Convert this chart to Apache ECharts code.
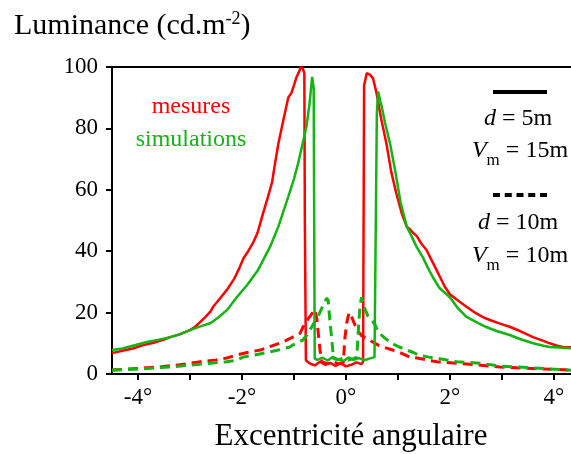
<!DOCTYPE html>
<html>
<head>
  <meta charset="utf-8">
  <title>Luminance</title>
  <script src="https://cdn.jsdelivr.net/npm/echarts@6/dist/echarts.min.js"></script>
  <style>
    body { margin: 0; background: #fff; }
    #chart { width: 571px; height: 454px; }
  </style>
</head>
<body>
  <div id="chart"></div>
  <script>
    // mesures, d = 5m
    const xMesure5 = [-4.5,-4.3,-4.1,-3.9,-3.7,-3.5,-3.38,-3.2,-3.0,-2.9,-2.8,-2.7,-2.6,-2.55,-2.42,-2.29,-2.15,-2.05,-1.97,-1.88,-1.79,-1.7,-1.6,-1.5,-1.42,-1.36,-1.3,-1.2,-1.11,-1.05,-1.0,-0.95,-0.9,-0.87,-0.83,-0.8,-0.79,-0.77,-0.7,-0.6,-0.5,-0.4,-0.3,-0.2,-0.1,0.0,0.1,0.2,0.3,0.33,0.35,0.4,0.46,0.52,0.59,0.68,0.78,0.87,0.97,1.08,1.17,1.24,1.29,1.36,1.45,1.55,1.65,1.74,1.81,1.9,2.0,2.15,2.32,2.5,2.65,2.77,2.95,3.15,3.35,3.6,3.8,3.92,4.05,4.17,4.33];
    const yMesure5 = [6.8,7.6,8.3,9.4,10.2,11.2,12.0,12.9,14.3,15.4,17.0,18.6,20.5,22.0,24.7,27.4,31.0,34.5,37.7,40.0,42.6,46.0,52.0,57.7,62.5,69.0,75.0,83.0,90.0,91.5,94.0,96.7,98.5,100,99.5,98.0,50,4.5,3.5,2.8,4.0,3.0,3.6,2.6,3.5,2.5,3.0,3.8,3.2,4.0,94,98,97.5,96.4,91.4,83,75,66,58.8,52,48,47,46,45,42.5,40.4,37,34,31.6,28.5,26,24,21.9,19.8,18.4,17.6,16.5,15.4,14.0,12,10.8,10,9.3,8.8,8.7];

    // simulations, d = 5m
    const xSimul5 = [-4.5,-4.3,-4.1,-3.83,-3.6,-3.38,-3.2,-3.0,-2.8,-2.6,-2.45,-2.29,-2.1,-1.9,-1.69,-1.46,-1.3,-1.11,-1.0,-0.92,-0.84,-0.76,-0.7,-0.65,-0.62,-0.6,-0.55,-0.45,-0.35,-0.25,-0.15,-0.05,0.05,0.15,0.25,0.35,0.45,0.55,0.58,0.595,0.62,0.66,0.69,0.75,0.85,0.95,1.05,1.17,1.26,1.36,1.48,1.58,1.67,1.8,2.0,2.15,2.32,2.5,2.7,2.9,3.15,3.35,3.6,3.8,3.92,4.1,4.25,4.33];
    const ySimul5 = [7.8,8.3,9.2,10.4,11.2,12.0,12.9,14.3,15.5,16.6,18.5,20.8,25.0,29.0,33.9,41.4,48.0,57.7,63.5,68.6,74.5,80.5,88,96.8,93,5.0,4.6,5.3,4.4,5.6,4.8,4.2,5.4,4.6,5.2,4.5,5.0,5.5,6,85,92,89,87,82,75,66,56,48,45,41.4,38,34.5,31.6,28,25,21.5,18.6,17.0,15.3,14.0,12.7,11.4,10,9.2,8.8,8.6,8.5,8.4];

    // mesures, d = 10m
    const xMesure10 = [-4.5,-4.0,-3.58,-3.2,-2.8,-2.5,-2.29,-2.1,-1.9,-1.65,-1.45,-1.21,-1.05,-0.88,-0.79,-0.68,-0.6,-0.56,-0.5,-0.46,-0.35,-0.25,-0.15,-0.05,-0.02,0.02,0.06,0.1,0.16,0.23,0.3,0.4,0.52,0.62,0.75,0.9,1.04,1.23,1.37,1.55,1.75,2.13,2.5,2.96,3.29,3.7,4.0,4.33];
    const yMesure10 = [1.3,1.8,2.3,3.0,4.0,4.6,5.2,6.2,7.0,7.8,9.0,10.4,11.8,13.3,16.6,19,21,18,8,3.8,3.4,4.0,3.3,3.8,11.7,17,20,19,16.5,14,12.5,11.5,10.4,9.4,8.6,7.8,7.0,5.5,5.2,4.6,4.0,3.5,3.0,2.3,2.0,1.7,1.5,1.3];

    // simulations, d = 10m
    const xSimul10 = [-4.5,-4.0,-3.38,-3.0,-2.6,-2.3,-2.1,-1.98,-1.75,-1.52,-1.3,-1.08,-0.94,-0.83,-0.75,-0.6,-0.54,-0.45,-0.37,-0.34,-0.31,-0.27,-0.24,-0.15,-0.05,0.05,0.15,0.21,0.23,0.27,0.3,0.37,0.42,0.5,0.56,0.62,0.75,0.88,1.0,1.17,1.3,1.42,1.6,1.8,2.13,2.58,2.96,3.3,3.6,3.95,4.25,4.33];
    const ySimul10 = [1.3,1.6,2.3,2.9,3.5,4.0,4.5,5.5,6.2,7.0,7.8,8.8,10.4,11,12.7,17,18.6,22,24.7,24,17.6,11,5,4.6,5.2,4.5,5.0,5.5,12,22,25,21,19,17.5,16,13.7,11.7,10,9,7.8,7.0,6.0,5.5,5.0,4.0,3.5,2.6,2.3,2.0,1.6,1.3,1.2];

    const xTicks = [-4, -3, -2, -1, 0, 1, 2, 3, 4];
    const xLabels = [-4, -2, 0, 2, 4];

    const RED = '#ff0000';
    const GREEN = '#14b414';
    const FONT = '"Liberation Serif", "Times New Roman", serif';

    function pairs(xs, ys) {
      return xs.map((x, i) => [x, ys[i]]);
    }

    function line(data, color, dashed) {
      return {
        type: 'line',
        data: data,
        showSymbol: false,
        silent: true,
        animation: false,
        lineStyle: { color: color, width: dashed ? 3 : 2.5, type: dashed ? [10, 6] : 'solid' },
        z: color === GREEN ? 3 : 2
      };
    }

    const chart = echarts.init(document.getElementById('chart'));
    chart.setOption({
      backgroundColor: '#fff',
      animation: false,
      textStyle: { fontFamily: FONT },
      grid: { left: 112, top: 67, right: 0, bottom: 80, containLabel: false, outerBoundsMode: 'none' },
      xAxis: [{
        type: 'value',
        min: -4.5,
        max: 4.33,
        axisLine: { show: true, onZero: false, lineStyle: { color: '#000', width: 2 } },
        axisTick: { show: true, inside: false, length: 6, customValues: xTicks, lineStyle: { color: '#000', width: 2 } },
        axisLabel: {
          customValues: xLabels,
          formatter: v => v + '°',
          margin: 12,
          fontFamily: FONT, fontSize: 23, color: '#000'
        },
        splitLine: { show: false }
      }, {
        type: 'value',
        position: 'top',
        min: -4.5,
        max: 4.33,
        axisLine: { show: true, onZero: false, lineStyle: { color: '#000', width: 2 } },
        axisTick: { show: false },
        axisLabel: { show: false },
        splitLine: { show: false }
      }],
      yAxis: {
        type: 'value',
        min: 0,
        max: 100,
        interval: 20,
        axisLine: { show: true, onZero: false, lineStyle: { color: '#000', width: 2 } },
        axisTick: { show: true, inside: false, length: 6, lineStyle: { color: '#000', width: 2 } },
        axisLabel: { margin: 14, fontFamily: FONT, fontSize: 23, color: '#000' },
        splitLine: { show: false }
      },
      series: [
        line(pairs(xMesure10, yMesure10), RED, true),
        line(pairs(xSimul10, ySimul10), GREEN, true),
        line(pairs(xMesure5, yMesure5), RED, false),
        line(pairs(xSimul5, ySimul5), GREEN, false)
      ],
      graphic: [
        {
          type: 'text', left: 14, top: 10,
          style: {
            text: '{a|Luminance (cd.m}{s|-2}{a|)}',
            rich: {
              a: { fontFamily: FONT, fontSize: 30, lineHeight: 32, fill: '#000' },
              s: { fontFamily: FONT, fontSize: 18, lineHeight: 18, verticalAlign: 'top', fill: '#000' }
            }
          }
        },
        {
          type: 'text', x: 351, y: 437,
          style: { text: 'Excentricité angulaire', font: '31px "Liberation Serif"', fill: '#000', textAlign: 'center', textVerticalAlign: 'middle' }
        },
        {
          type: 'text', x: 191, y: 107,
          style: { text: 'mesures', font: '24px "Liberation Serif"', fill: RED, textAlign: 'center', textVerticalAlign: 'middle' }
        },
        {
          type: 'text', x: 191, y: 140,
          style: { text: 'simulations', font: '24px "Liberation Serif"', fill: GREEN, textAlign: 'center', textVerticalAlign: 'middle' }
        },
        {
          type: 'line',
          shape: { x1: 493, y1: 92, x2: 547, y2: 92 },
          style: { stroke: '#000', lineWidth: 4 }
        },
        {
          type: 'line',
          shape: { x1: 493, y1: 195, x2: 547, y2: 195 },
          style: { stroke: '#000', lineWidth: 4, lineDash: [7, 4.75] }
        },
        {
          type: 'text', x: 518, y: 119,
          style: {
            text: '{i|d}{n| = 5m}', textAlign: 'center', textVerticalAlign: 'middle',
            rich: {
              i: { fontFamily: FONT, fontSize: 24, fontStyle: 'italic', fill: '#000' },
              n: { fontFamily: FONT, fontSize: 24, fill: '#000' }
            }
          }
        },
        {
          type: 'text', x: 520, y: 151,
          style: {
            text: '{i|V}{s|m}{n| = 15m}', textAlign: 'center', textVerticalAlign: 'middle',
            rich: {
              i: { fontFamily: FONT, fontSize: 24, lineHeight: 24, fontStyle: 'italic', verticalAlign: 'top', fill: '#000' },
              s: { fontFamily: FONT, fontSize: 17, lineHeight: 17, padding: [13, 0, 0, 0], verticalAlign: 'top', fill: '#000' },
              n: { fontFamily: FONT, fontSize: 24, lineHeight: 24, verticalAlign: 'top', fill: '#000' }
            }
          }
        },
        {
          type: 'text', x: 518, y: 223,
          style: {
            text: '{i|d}{n| = 10m}', textAlign: 'center', textVerticalAlign: 'middle',
            rich: {
              i: { fontFamily: FONT, fontSize: 24, fontStyle: 'italic', fill: '#000' },
              n: { fontFamily: FONT, fontSize: 24, fill: '#000' }
            }
          }
        },
        {
          type: 'text', x: 520, y: 256,
          style: {
            text: '{i|V}{s|m}{n| = 10m}', textAlign: 'center', textVerticalAlign: 'middle',
            rich: {
              i: { fontFamily: FONT, fontSize: 24, lineHeight: 24, fontStyle: 'italic', verticalAlign: 'top', fill: '#000' },
              s: { fontFamily: FONT, fontSize: 17, lineHeight: 17, padding: [13, 0, 0, 0], verticalAlign: 'top', fill: '#000' },
              n: { fontFamily: FONT, fontSize: 24, lineHeight: 24, verticalAlign: 'top', fill: '#000' }
            }
          }
        }
      ]
    });
  </script>
</body>
</html>
